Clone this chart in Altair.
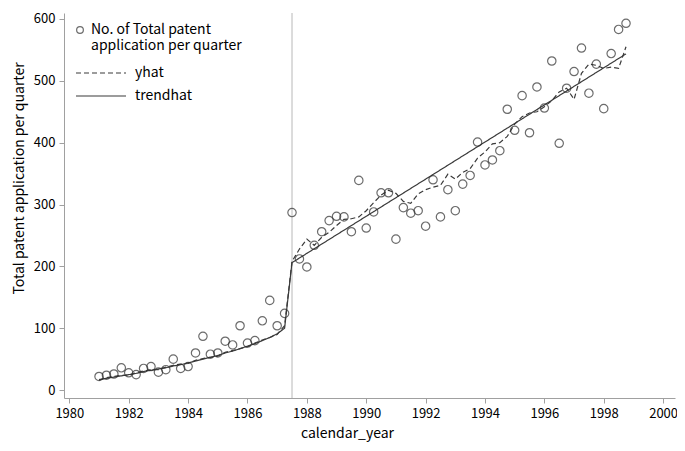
import altair as alt
import pandas as pd

FONT = "Noto Sans CJK JP"

# quarterly time points 1981Q1 .. 1998Q4
quarters = [y + q / 4 for y in range(1981, 1999) for q in range(4)]

patents = [22, 24, 26, 36, 28, 25, 35, 38, 29, 33,
           50, 35, 38, 60, 87, 58, 60, 79, 73, 104,
           76, 80, 112, 145, 104, 124,
           287,
           212, 199, 234, 256, 274, 281, 280, 256, 339,
           262, 288, 319, 319, 244, 295, 286, 290, 265, 340,
           280, 324, 290, 333, 347, 401, 364, 372, 387, 454,
           420, 476, 416, 490, 456, 532, 399, 488, 515, 553,
           480, 527, 455, 544, 583, 593]

yhat = [16, 20, 22, 24, 24, 28, 31, 33, 33, 37, 40, 42, 43, 48, 51, 53, 55, 61, 64, 67,
        70, 76, 81, 85, 90, 104,
        208, 228, 244, 234, 247, 255, 266, 276, 277, 280, 290, 303, 315, 323, 318, 305,
        302, 317, 324, 328, 331, 349, 341, 352, 358, 375, 385, 398, 400, 410, 430, 442,
        448, 450, 458, 468, 482, 488, 470, 512, 527, 525, 520, 522, 520, 555]

trendhat = [17, 19, 21, 23, 25, 27, 30, 32, 34, 36, 39, 41, 44, 47, 50, 53, 56, 60, 63, 67,
            71, 75, 80, 85, 91, 100,
            206, 213.5, 221, 228.5, 236, 243.5, 251, 258.5, 266, 273.5, 281, 288.5, 296,
            303.5, 311, 318.5, 326, 333.5, 341, 348.5, 356, 363.5, 371, 378.5, 386, 393.5,
            401, 408.5, 416, 423.5, 431, 438.5, 446, 453.5, 461, 468.5, 476, 483.5, 491,
            498.5, 506, 513.5, 521, 528.5, 536, 543.5]

break_year = [1987.5]
x_ticks = list(range(1980, 2001, 2))
y_ticks = list(range(0, 601, 100))

point_label = "No. of Total patent|application per quarter"

pts_df = pd.DataFrame({"t": quarters, "v": patents, "pt": [point_label] * len(quarters)})
yhat_df = pd.DataFrame({"t": quarters, "v": yhat, "series": ["yhat"] * len(quarters)})
trend_df = pd.DataFrame({"t": quarters, "v": trendhat, "series": ["trendhat"] * len(quarters)})
rule_df = pd.DataFrame({"t": break_year})

x_scale = alt.Scale(domain=[1979.82, 2000.4], nice=False, zero=False)
y_scale = alt.Scale(domain=[-12.8, 609.6], nice=False, zero=False)

x_axis = alt.Axis(values=x_ticks, format="d", title="calendar_year", grid=False,
                  labelPadding=4,
                  titleX=283, titleY=35, titleBaseline="middle", titleAlign="center")
y_axis = alt.Axis(values=y_ticks, format="d", title="Total patent application per quarter",
                  grid=False, titleX=-45, titleY=165, titleAngle=-90,
                  titleAlign="center", titleBaseline="middle")

X = alt.X("t:Q", scale=x_scale, axis=x_axis)
Y = alt.Y("v:Q", scale=y_scale, axis=y_axis)


def line_legend(y):
    return alt.Legend(orient="none", legendX=11, legendY=y, title=None,
                      symbolType="M-1,0H1", symbolSize=2500, symbolStrokeWidth=1.2,
                      symbolStrokeColor="#3a3a3a", labelOffset=8,
                      labelFontSize=14, labelFont=FONT, labelColor="#000")


rule = alt.Chart(rule_df).mark_rule(color="#b8b8b8", strokeWidth=1).encode(x=X)

yhat_line = alt.Chart(yhat_df).mark_line(color="#3a3a3a", strokeWidth=1.2).encode(
    x=X, y=Y,
    strokeDash=alt.StrokeDash("series:N", scale=alt.Scale(domain=["yhat"], range=[[5, 3]]),
                              legend=line_legend(34)),
)

trend_line = alt.Chart(trend_df).mark_line(color="#3a3a3a", strokeWidth=1.2).encode(
    x=X, y=Y,
    strokeDash=alt.StrokeDash("series:N", scale=alt.Scale(domain=["trendhat"], range=[[1, 0]]),
                              legend=line_legend(57)),
)

points = alt.Chart(pts_df).mark_point(filled=False, color="#2e2e2e", size=70, strokeWidth=1.2).encode(
    x=X, y=Y,
    shape=alt.Shape(
        "pt:N",
        scale=alt.Scale(range=["circle"]),
        legend=alt.Legend(orient="none", legendX=9, legendY=10, title=None,
                          symbolSize=45, symbolStrokeColor="#2e2e2e", symbolFillColor="transparent",
                          symbolStrokeWidth=1.2, labelOffset=4,
                          labelExpr="split(datum.label, '|')",
                          labelFontSize=14, labelFont=FONT, labelColor="#000"),
    ),
)

chart = alt.layer(rule, yhat_line, trend_line, points).resolve_scale(
    strokeDash="independent"
).properties(
    width=611, height=385,
    autosize=alt.AutoSizeParams(type="none"),
    padding={"left": 56, "top": 5, "right": 2, "bottom": 45},
).configure_view(stroke=None).configure_axis(
    domainColor="#a0a0a0", tickColor="#a0a0a0", tickSize=5, labelPadding=4,
    labelFont=FONT, labelFontSize=13, labelColor="#000",
    titleFont=FONT, titleFontSize=14, titleFontWeight="normal", titleColor="#000",
)

chart.save("out.html", embed_options={"renderer": "svg", "actions": False})
